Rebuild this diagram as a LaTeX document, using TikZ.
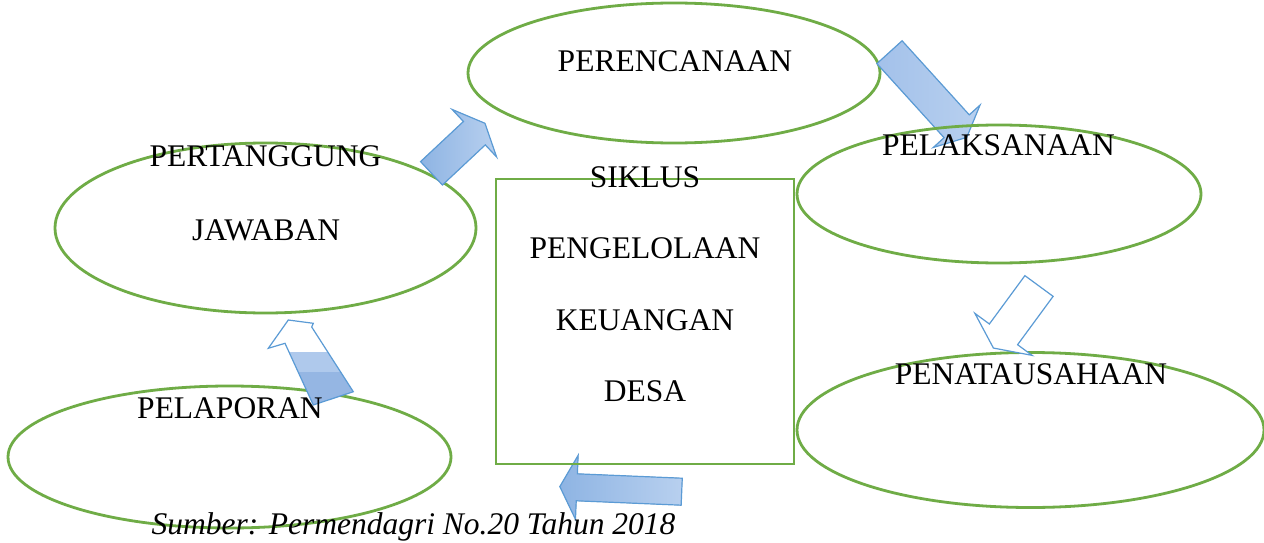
\documentclass[tikz,border=0pt]{standalone}
\usepackage{fontspec}
\setmainfont{Liberation Serif}
\definecolor{gr}{HTML}{6FAC46}
\definecolor{aline}{HTML}{5B9BD5}
\definecolor{adark}{HTML}{8EB4E3}
\definecolor{alight}{HTML}{B8D0EF}
\definecolor{amid}{HTML}{A3C1EA}
\definecolor{bandl}{HTML}{AFC9EC}
\definecolor{bandd}{HTML}{95B6E3}
\newcommand{\mkarrow}[8]{%
 \begin{scope}[shift={(#2,#3)}, rotate=#4]
  \coordinate (#1-tail) at (0,0);
  \coordinate (#1-1) at (0,#6);
  \coordinate (#1-2) at (#5-#8,#6);
  \coordinate (#1-3) at (#5-#8,#7);
  \coordinate (#1-tip) at (#5,0);
  \coordinate (#1-5) at (#5-#8,-#7);
  \coordinate (#1-6) at (#5-#8,-#6);
  \coordinate (#1-7) at (0,-#6);
 \end{scope}}
\newcommand{\arrowpoly}[1]{(#1-1) -- (#1-2) -- (#1-3) -- (#1-tip) -- (#1-5) -- (#1-6) -- (#1-7) -- cycle}
\tikzset{
  ell/.style={draw=gr, line width=2.8pt, ellipse, inner sep=0pt},
  boxst/.style={draw=gr, line width=2.8pt, rectangle, inner sep=0pt},
  lbl/.style={font=\fontsize{31.5}{36}\selectfont, anchor=base, inner sep=0pt},
  arrline/.style={draw=aline, line width=1.2pt, line join=miter},
}
\usetikzlibrary{shapes.geometric}
\begin{document}
\begin{tikzpicture}[x=1pt,y=-1pt]
\useasboundingbox (0,0) rectangle (1264,543);
\fill[white] (0,0) rectangle (1264,543);
% arrow geometry
\mkarrow{a1}{431.5}{173.3}{43.1}{73.2}{16}{32.5}{14.5}
\mkarrow{a2}{889.5}{52.2}{-47.8}{115}{17}{31.5}{15}
\mkarrow{a3}{1039}{286}{-126.3}{77}{17.5}{35.5}{17}
\mkarrow{a5}{681.7}{491.7}{177.6}{122}{13.5}{32}{17}
\coordinate (a4-tip) at (288.3,320);
\coordinate (a4-1) at (313.3,323.3);
\coordinate (a4-2) at (311.7,327);
\coordinate (a4-3) at (353.3,391.7);
\coordinate (a4-4) at (313.3,405);
\coordinate (a4-5) at (285,343.3);
\coordinate (a4-6) at (268.3,348.3);
% ellipses
\node[ell, minimum width=412, minimum height=140] (per) at (674,73) {};
\node[ell, minimum width=421, minimum height=170] (pj) at (265.5,228) {};
\node[ell, minimum width=443, minimum height=142] (pel) at (229.5,457) {};
\node[ell, minimum width=467, minimum height=155] (pen) at (1030.5,430) {};
% arrow 2 under PELAKSANAAN
\filldraw[arrline, left color=amid, right color=alight] \arrowpoly{a2};
\node[ell, minimum width=404, minimum height=138] (pls) at (999,194) {};
% other arrows
\filldraw[arrline, left color=adark, right color=alight] \arrowpoly{a1};
\filldraw[arrline, fill=white] \arrowpoly{a3};
\fill[white] (a4-tip) -- (a4-1) -- (a4-2) -- (a4-3) -- (a4-4) -- (a4-5) -- (a4-6) -- cycle;
\begin{scope}
  \clip (a4-tip) -- (a4-1) -- (a4-2) -- (a4-3) -- (a4-4) -- (a4-5) -- (a4-6) -- cycle;
  \fill[bandl] (240,351.7) rectangle (380,371.7);
  \fill[bandd] (240,371.7) rectangle (380,430);
\end{scope}
\draw[arrline] (a4-tip) -- (a4-1) -- (a4-2) -- (a4-3) -- (a4-4) -- (a4-5) -- (a4-6) -- cycle;
\filldraw[arrline, left color=adark, right color=alight] \arrowpoly{a5};
% central box
\node[boxst, minimum width=298, minimum height=285] (box) at (645,321.5) {};
% labels
\node[lbl] (tper) at (675,71.7) {PERENCANAAN};
\node[lbl] (tpls) at (998.5,155.5) {PELAKSANAAN};
\node[lbl] (tpen) at (1031,384.5) {PENATAUSAHAAN};
\node[lbl] (tpel) at (230,418.5) {PELAPORAN};
\node[lbl] (tpj1) at (265.5,166) {PERTANGGUNG};
\node[lbl] (tpj2) at (266,240) {JAWABAN};
\node[lbl] (ts1) at (645,187) {SIKLUS};
\node[lbl] (ts2) at (645,258.5) {PENGELOLAAN};
\node[lbl] (ts3) at (645,330.5) {KEUANGAN};
\node[lbl] (ts4) at (645,401.5) {DESA};
\node[lbl, font=\fontsize{31.5}{36}\selectfont\itshape] (src) at (413.5,534) {Sumber: Permendagri No.20 Tahun 2018};
\end{tikzpicture}
\end{document}
